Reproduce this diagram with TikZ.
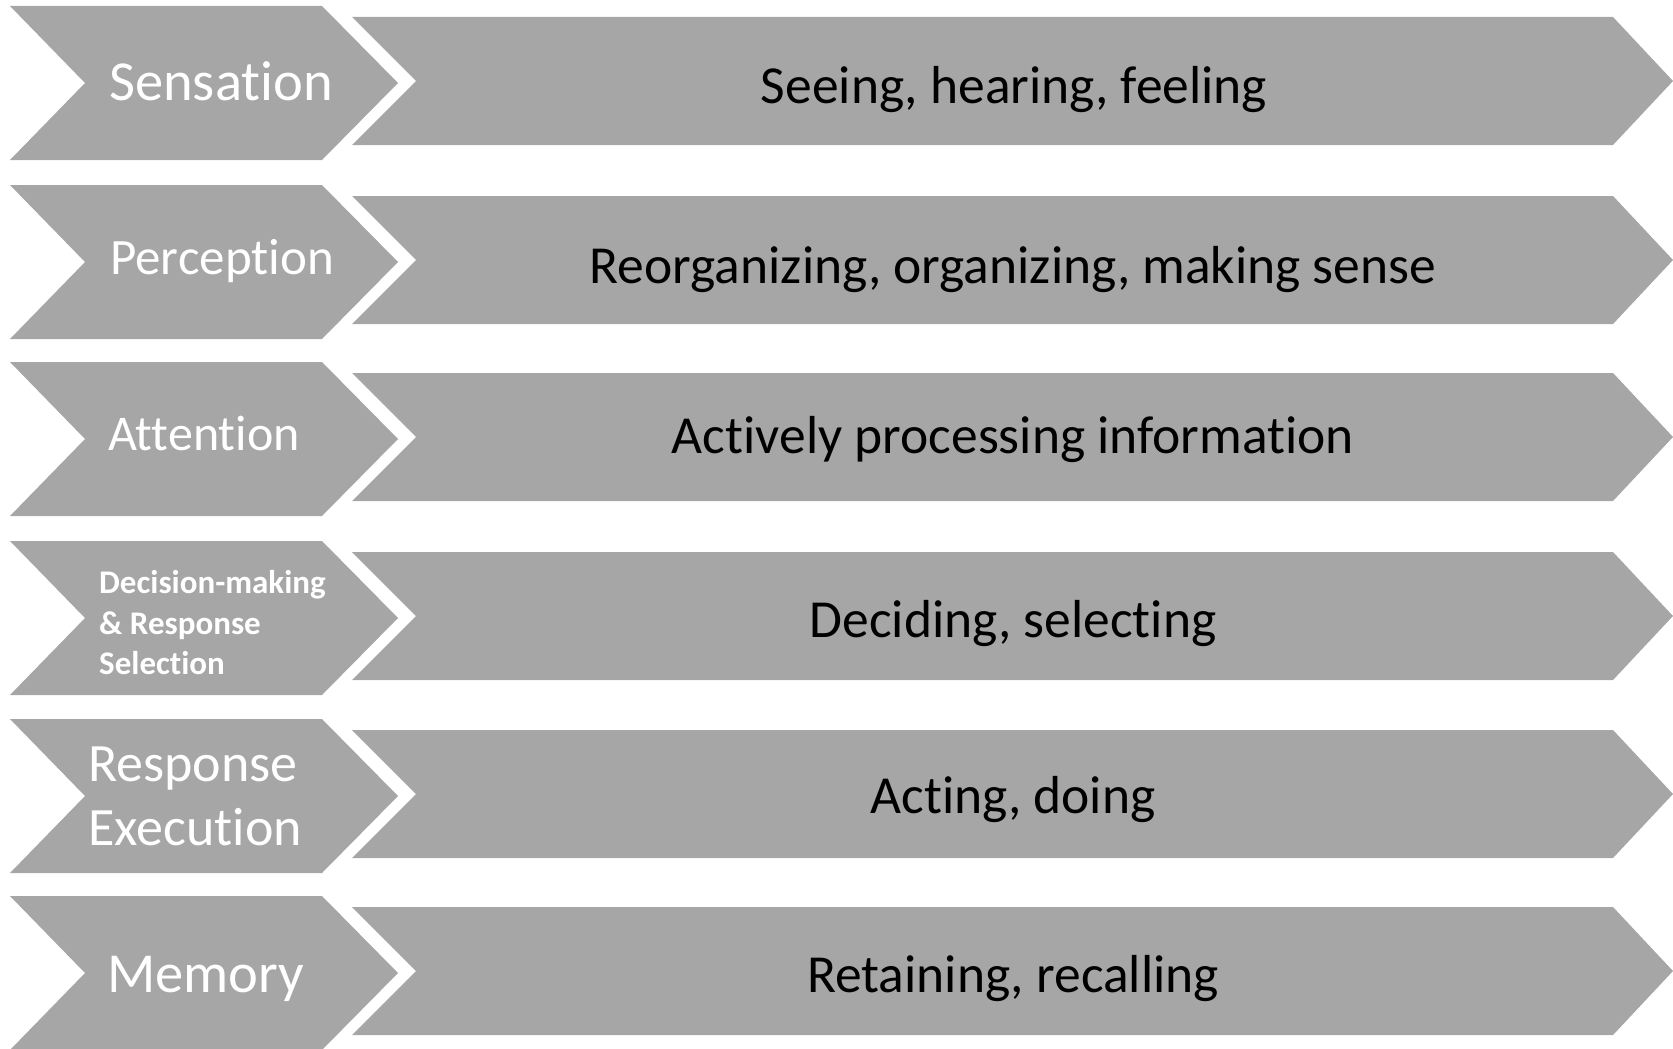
\documentclass[tikz,border=0pt]{standalone}
\usepackage{fontspec}
\setmainfont{Carlito}[Ligatures={NoCommon,NoContextual,NoRequired}]
\definecolor{chevgray}{HTML}{A6A6A6}
\tikzset{
  shapefill/.style={fill=chevgray, draw=none},
  lefttext/.style={anchor=base west, inner sep=0pt, text=white},
  righttext/.style={anchor=base, inner sep=0pt, text=black, font=\fontsize{53.5}{64}\selectfont},
}
\newcommand{\chevrow}[1]{%
  \fill[shapefill] (10,#1) -- (322,#1) -- (398,#1+77) -- (322,#1+154) -- (10,#1+154) -- (85,#1+77) -- cycle;
  \fill[shapefill] (352,#1+11) -- (1613,#1+11) -- (1673,#1+75) -- (1613,#1+139) -- (352,#1+139) -- (416,#1+75) -- cycle;
}
\begin{document}
\begin{tikzpicture}[x=1pt,y=-1pt]
\useasboundingbox (0,0) rectangle (1673,1049);
\chevrow{6}
\chevrow{185}
\chevrow{362}
\chevrow{541}
\chevrow{719}
\chevrow{896}
% left labels
\node[lefttext, font=\fontsize{56.5}{66}\selectfont] (l1) at (109,100) {Sensation};
\node[lefttext, font=\fontsize{51}{60}\selectfont] (l2) at (110,274) {Perception};
\node[lefttext, font=\fontsize{50}{60}\selectfont] (l3) at (108,450) {Attention};
\node[lefttext, font=\fontsize{33}{40}\bfseries] (l4a) at (99,593) {Decision-making};
\node[lefttext, font=\fontsize{33}{40}\bfseries] (l4b) at (99,634) {\& Response};
\node[lefttext, font=\fontsize{33}{40}\bfseries] (l4c) at (99,674) {Selection};
\node[lefttext, font=\fontsize{54}{62}\selectfont] (l5a) at (88,781) {Response};
\node[lefttext, font=\fontsize{54}{62}\selectfont] (l5b) at (88,845) {Execution};
\node[lefttext, font=\fontsize{56.5}{66}\selectfont] (l6) at (107,992) {Memory};
% right texts
\node[righttext] (r1) at (1014,103) {Seeing, hearing, feeling};
\node[righttext] (r2) at (1013,283) {Reorganizing, organizing, making sense};
\node[righttext] (r3) at (1013,453) {Actively processing information};
\node[righttext] (r4) at (1013,637) {Deciding, selecting};
\node[righttext] (r5) at (1013,813) {Acting, doing};
\node[righttext] (r6) at (1013,992) {Retaining, recalling};
\end{tikzpicture}
\end{document}
